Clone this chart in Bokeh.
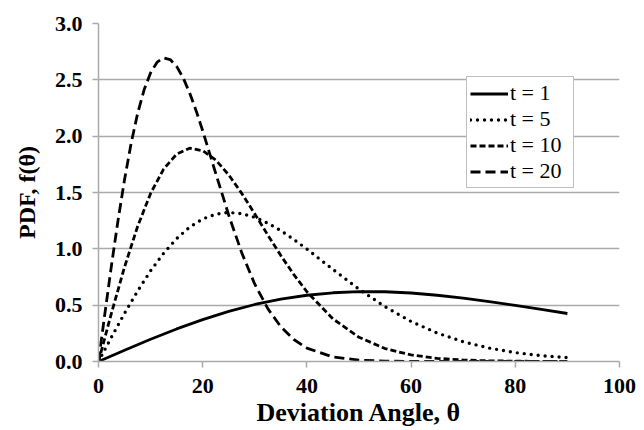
from bokeh.plotting import figure
from bokeh.models import Range1d, FixedTicker, Legend, LegendItem, PrintfTickFormatter
from bokeh.embed import file_html
from bokeh.resources import INLINE

# ---- data ----
theta_t1 = [0, 5, 10, 15, 20, 25, 30, 35, 40, 45, 50, 55, 60, 65, 70, 75, 80, 85, 90]
pdf_t1 = [0.0, 0.100, 0.198, 0.289, 0.372, 0.445, 0.506, 0.554, 0.588, 0.610,
          0.620, 0.619, 0.608, 0.588, 0.563, 0.532, 0.498, 0.462, 0.426]

theta_t5 = [0, 2.5, 5, 7.5, 10, 12.5, 15, 17.5, 20, 22.5, 25, 27.5, 30, 32.5, 35, 37.5, 40,
            45, 50, 55, 60, 65, 70, 75, 80, 85, 90]
pdf_t5 = [0.0, 0.217, 0.428, 0.625, 0.805, 0.961, 1.091, 1.193, 1.265, 1.308, 1.323, 1.312,
          1.280, 1.228, 1.161, 1.083, 0.998, 0.817, 0.642, 0.486, 0.355, 0.253, 0.175,
          0.119, 0.079, 0.052, 0.034]

theta_t10 = [0, 2.5, 5, 7.5, 10, 12.5, 15, 17.5, 20, 22.5, 25, 27.5, 30, 32.5, 35, 37.5, 40,
             45, 50, 55, 60, 65, 70, 75, 80, 85, 90]
pdf_t10 = [0.0, 0.432, 0.839, 1.198, 1.492, 1.708, 1.841, 1.893, 1.871, 1.788, 1.656, 1.492,
           1.310, 1.122, 0.940, 0.771, 0.619, 0.378, 0.215, 0.115, 0.058, 0.028, 0.013,
           0.006, 0.003, 0.001, 0.000]

theta_t20 = [0, 1.25, 2.5, 3.75, 5, 6.25, 7.5, 8.75, 10, 11.25, 12.5, 13.75, 15, 16.25, 17.5,
             18.75, 20, 22.5, 25, 27.5, 30, 32.5, 35, 37.5, 40, 45, 50, 55, 60, 65, 70, 75,
             80, 85, 90]
pdf_t20 = [0.0, 0.434, 0.856, 1.253, 1.615, 1.933, 2.200, 2.411, 2.563, 2.657, 2.695, 2.680,
           2.619, 2.518, 2.383, 2.224, 2.048, 1.670, 1.298, 0.964, 0.686, 0.469, 0.308,
           0.195, 0.119, 0.040, 0.012, 0.003, 0.001, 0.000, 0.000, 0.000, 0.000, 0.000, 0.000]

series_labels = ["t = 1", "t = 5", "t = 10", "t = 20"]
x_ticks = [0, 20, 40, 60, 80, 100]
y_ticks = [0.0, 0.5, 1.0, 1.5, 2.0, 2.5, 3.0]

SERIF = "Liberation Serif"
GRAY = "#aaaaaa"

p = figure(width=644, height=430, output_backend="svg", toolbar_location=None,
           x_range=Range1d(0, 100), y_range=Range1d(0, 3.0),
           min_border_left=98, min_border_right=25, min_border_top=23, min_border_bottom=69)
p.outline_line_color = None
p.background_fill_color = "white"
p.border_fill_color = "white"

p.xgrid.grid_line_color = None
p.ygrid.grid_line_color = GRAY
p.ygrid.grid_line_width = 1.5

p.xaxis.ticker = FixedTicker(ticks=x_ticks)
p.yaxis.ticker = FixedTicker(ticks=y_ticks)
p.yaxis.formatter = PrintfTickFormatter(format="%.1f")

for ax in (p.xaxis[0], p.yaxis[0]):
    ax.axis_line_color = GRAY
    ax.axis_line_width = 1.5
    ax.major_tick_line_color = GRAY
    ax.major_tick_line_width = 1.5
    ax.major_tick_in = 0
    ax.major_tick_out = 6
    ax.minor_tick_line_color = None
    ax.major_label_text_font = SERIF
    ax.major_label_text_font_style = "bold"
    ax.major_label_text_font_size = "22px"
    ax.major_label_text_color = "black"
    ax.axis_label_text_font = SERIF
    ax.axis_label_text_font_style = "bold"
    ax.axis_label_text_color = "black"

p.xaxis.axis_label = "Deviation Angle, θ"
p.yaxis.axis_label = "PDF, f(θ)"
p.xaxis.axis_label_text_font_size = "26px"
p.yaxis.axis_label_text_font_size = "24px"
p.xaxis.major_label_standoff = 11
p.yaxis.major_label_standoff = 10
p.xaxis.axis_label_standoff = 2
p.yaxis.axis_label_standoff = 12

r1 = p.line(theta_t1, pdf_t1, line_color="black", line_width=2.8, line_join="round")
r5 = p.line(theta_t5, pdf_t5, line_color="black", line_width=3.4, line_dash="0 7",
            line_cap="round", line_join="round")
r10 = p.line(theta_t10, pdf_t10, line_color="black", line_width=2.8, line_dash="6 3",
             line_join="round")
r20 = p.line(theta_t20, pdf_t20, line_color="black", line_width=2.8, line_dash="10 5",
             line_join="round")

legend = Legend(items=[LegendItem(label=lab, renderers=[r])
                       for lab, r in zip(series_labels, [r1, r5, r10, r20])],
                location=(368, 173))
legend.padding = 3
legend.spacing = 0
legend.margin = 0
legend.glyph_width = 38
legend.glyph_height = 25
legend.label_height = 25
legend.label_width = 60
legend.label_standoff = 2
legend.label_text_font = SERIF
legend.label_text_font_size = "22px"
legend.label_text_color = "black"
legend.border_line_color = "#808080"
legend.border_line_width = 1.2
legend.background_fill_color = "white"
legend.background_fill_alpha = 1.0
p.add_layout(legend)

open("out.html", "w").write(file_html(p, INLINE))
